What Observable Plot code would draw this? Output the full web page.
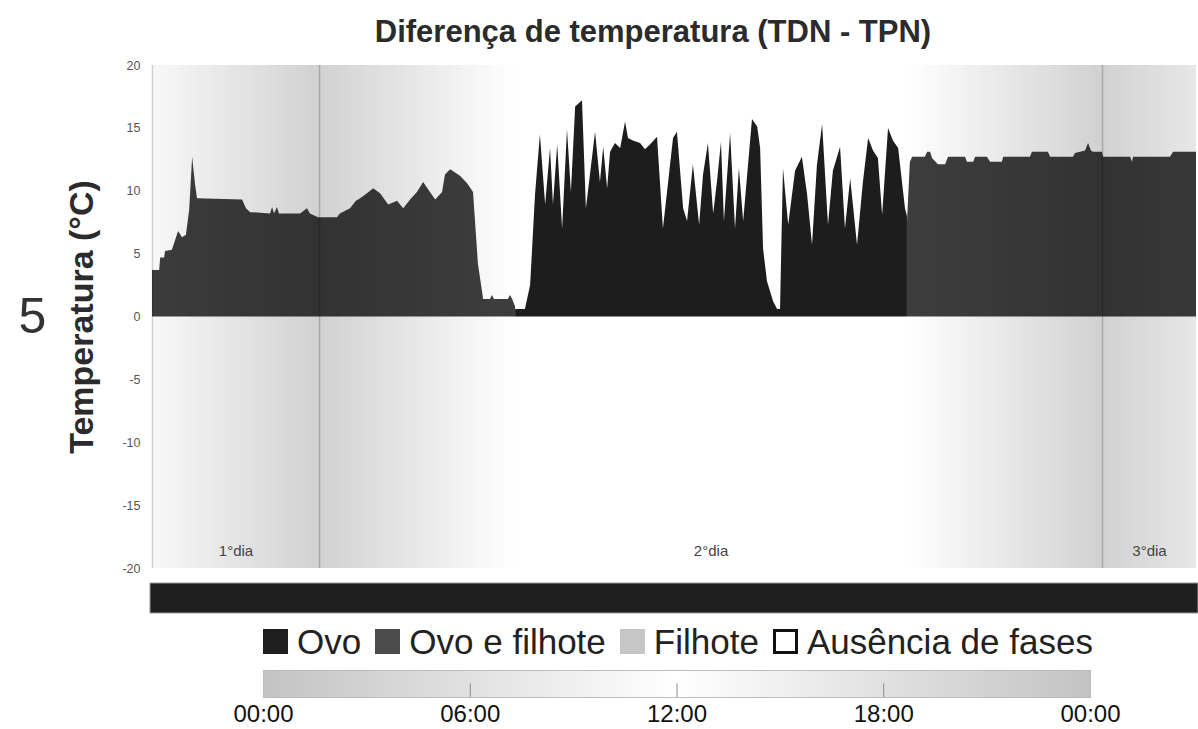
<!DOCTYPE html>
<html><head><meta charset="utf-8">
<script src="https://cdn.jsdelivr.net/npm/d3@7"></script>
<script src="https://cdn.jsdelivr.net/npm/@observablehq/plot@0.6"></script>
<style>
html,body{margin:0;padding:0;background:#fff;overflow:hidden;}
#wrap{position:relative;width:1198px;height:729px;overflow:hidden;font-family:"Liberation Sans",Arial,sans-serif;}
#title{position:absolute;left:0;top:16px;width:1306px;text-align:center;font-weight:bold;font-size:31px;line-height:31px;color:#2b2b2b;}
#main{position:absolute;left:0;top:55px;}
#phase{position:absolute;left:0;top:575px;}
#legend{position:absolute;left:0;top:624px;width:1356px;text-align:center;font-size:35px;line-height:35px;color:#222;white-space:nowrap;}
#legend .it{display:inline-block;margin:0 7px;}
#legend .sw{display:inline-block;width:25px;height:25px;margin-right:9px;box-sizing:border-box;vertical-align:baseline;}
#hours{position:absolute;left:0;top:662px;}
</style></head>
<body><div id="wrap">
<div id="title">Diferença de temperatura (TDN - TPN)</div>
<div id="main"></div>
<div id="phase"></div>
<div id="legend"></div>
<div id="hours"></div>
</div>
<script>
// ---- data (time in hours since 00:00 of day 1; value in °C) ----
const ovoFilhote1T = [18.88,19.10,19.13,19.25,19.28,19.49,19.68,19.80,19.92,20.02,20.11,20.20,20.26,21.64,21.76,21.89,22.50,22.56,22.62,22.71,22.77,23.42,23.63,23.72,23.97,24.55,24.64,24.95,25.13,25.26,25.47,25.66,25.87,26.12,26.39,26.58,26.79,27.00,27.19,27.40,27.56,27.77,27.86,28.02,28.32,28.54,28.72,28.87,29.03,29.24,29.30,29.36,29.79,29.85,29.92,30.01];
const ovoFilhote1V = [3.7,3.7,4.7,4.7,5.2,5.3,6.8,6.3,6.5,8.5,12.7,10.5,9.4,9.3,8.6,8.3,8.2,8.7,8.2,8.7,8.2,8.2,8.6,8.2,7.9,7.9,8.2,8.6,9.2,9.4,9.8,10.2,9.8,8.9,9.2,8.6,9.3,9.9,10.7,9.9,9.3,9.9,11.3,11.7,11.2,10.6,9.9,4.2,1.4,1.4,1.7,1.4,1.4,1.7,1.4,0.8];

const ovoT = [30.01,30.31,30.47,30.62,30.77,30.93,31.08,31.17,31.30,31.45,31.60,31.72,31.85,32.06,32.18,32.46,32.61,32.71,32.83,32.92,33.07,33.23,33.38,33.47,33.62,33.84,33.99,34.15,34.36,34.54,34.70,34.85,34.97,35.16,35.28,35.46,35.65,35.77,35.92,36.08,36.20,36.32,36.41,36.60,36.75,36.87,37.00,37.27,37.43,37.52,37.61,37.73,37.92,38.04,38.13,38.22,38.38,38.59,38.80,38.96,39.11,39.26,39.42,39.60,39.75,39.97,40.12,40.28,40.49,40.67,40.83,40.98,41.13,41.26,41.44,41.59,41.75,41.96,42.02];
const ovoV = [0.6,0.6,2.5,9.7,14.5,8.9,13.4,8.9,13.7,7.0,14.9,9.9,16.7,17.2,8.6,14.7,10.7,13.5,10.2,13.1,13.8,13.4,15.5,14.2,14.0,13.8,13.3,13.7,14.3,7.0,10.7,14.2,14.7,8.6,7.6,12.1,7.3,11.3,13.8,8.2,10.8,13.9,7.6,14.6,7.0,11.8,7.6,15.7,15.1,13.4,5.4,2.8,1.2,0.6,0.6,11.8,7.3,11.6,12.7,9.7,5.7,12.0,15.3,7.3,11.6,13.5,7.0,11.0,5.7,10.7,14.2,13.2,12.6,8.1,15.0,14.0,13.4,8.6,8.0];

const ovoFilhote2T = [42.02,42.11,42.18,42.57,42.64,42.73,42.79,42.97,43.19,43.28,43.80,43.86,44.05,44.11,44.47,44.57,44.93,44.97,45.79,45.85,46.34,46.41,47.11,47.17,47.48,47.57,47.66,47.72,48.00,48.03,48.86,48.92,48.95,50.08,50.18,50.88];
const ovoFilhote2V = [7.5,12.3,12.7,12.7,13.1,13.1,12.6,12.1,12.1,12.7,12.7,12.3,12.3,12.7,12.7,12.3,12.3,12.7,12.7,13.1,13.1,12.7,12.7,13.0,13.2,13.8,13.2,13.1,13.1,12.7,12.7,12.3,12.7,12.7,13.1,13.1];

const yTicks = [-20,-15,-10,-5,0,5,10,15,20];
const dayLabels = ["1°dia","2°dia","3°dia"];
const dayStarts = [0,24,48];
const midnights = [24,48];
const phaseNames = ["Ovo"];
const phaseStart = [18.88];
const phaseEnd = [50.88];
const legendNames = ["Ovo","Ovo e filhote","Filhote","Ausência de fases"];
const legendColors = ["#1e1e1e","#4b4b4b","#c6c6c6","#ffffff"];
const hourTicks = [0,6,12,18,24];
const hourLabels = ["00:00","06:00","12:00","18:00","00:00"];
const panelLabel = "5";

// ---- build tables ----
const zip = (T,V) => T.map((t,i) => ({t, v: V[i]}));
const seg1 = zip(ovoFilhote1T, ovoFilhote1V);
const seg2 = zip(ovoT, ovoV);
const seg3 = zip(ovoFilhote2T, ovoFilhote2V);
const xDomain = [ovoFilhote1T[0], ovoFilhote2T[ovoFilhote2T.length-1]];

function gray(v){ v = Math.round(v); return `rgb(${v},${v},${v})`; }
function nightShade(h){
  const d = h >= 18 ? (h-18)/6 : (h < 6 ? (6-h)/6 : 0);
  return gray(255 - 46*d);
}
const step = 0.1;
const bg = d3.range(xDomain[0], xDomain[1], step).map(t => ({t0: t, t1: Math.min(t + step + 0.02, xDomain[1]), fill: nightShade(((t + step/2) % 24))}));

const days = dayLabels.map((name,i) => {
  const a = Math.max(dayStarts[i], xDomain[0]), b = Math.min(dayStarts[i] + 24, xDomain[1]);
  return {name, t: (a + b) / 2};
});

const font = "'Liberation Sans', Arial, sans-serif";

const main = Plot.plot({
  width: 1198, height: 520,
  marginLeft: 152, marginRight: 2, marginTop: 10, marginBottom: 7,
  style: {fontFamily: font, background: "transparent"},
  x: {domain: xDomain, axis: null},
  y: {domain: [-20, 20], axis: null},
  color: {type: "identity"},
  marks: [
    Plot.rect(bg, {x1: "t0", x2: "t1", fill: "fill", inset: 0, shapeRendering: "crispEdges"}),
    Plot.ruleX(midnights, {stroke: "#a8a8a8", strokeWidth: 1.5}),
    Plot.ruleX([xDomain[0]], {stroke: "#cfcfcf", strokeWidth: 1.5}),
    Plot.areaY(seg1, {x: "t", y: "v", fill: "#000", fillOpacity: 0.76}),
    Plot.areaY(seg2, {x: "t", y: "v", fill: "#000", fillOpacity: 0.885}),
    Plot.areaY(seg3, {x: "t", y: "v", fill: "#000", fillOpacity: 0.76}),
    Plot.axisY(yTicks, {tickSize: 0, tickPadding: 12, fontSize: 12.5, fill: "#555", label: null, tickFormat: d => String(d)}),
    Plot.text(["Temperatura (°C)"], {frameAnchor: "left", textAnchor: "middle", dx: -70, rotate: -90, fontSize: 34, fontWeight: "bold", fill: "#2b2b2b"}),
    Plot.text([panelLabel], {frameAnchor: "left", textAnchor: "middle", dx: -120, dy: 0, fontSize: 50, fill: "#333"}),
    Plot.text(days, {x: "t", text: "name", frameAnchor: "bottom", dy: -13, fontSize: 15, fill: "#444"})
  ]
});
document.getElementById("main").appendChild(main);

const phaseData = phaseNames.map((p,i) => ({p, start: phaseStart[i], end: phaseEnd[i]}));
const phase = Plot.plot({
  width: 1198, height: 40,
  marginLeft: 150, marginRight: 0, marginTop: 8, marginBottom: 2,
  style: {background: "transparent"},
  x: {domain: xDomain, axis: null},
  marks: [
    Plot.rect(phaseData, {x1: "start", x2: "end", fill: "#1f1f1f", stroke: "#9a9a9a", strokeWidth: 1, inset: 0})
  ]
});
document.getElementById("phase").appendChild(phase);

// legend
const lg = document.getElementById("legend");
legendNames.forEach((n,i) => {
  const it = document.createElement("span"); it.className = "it";
  const sw = document.createElement("span"); sw.className = "sw";
  sw.style.background = legendColors[i];
  if (legendColors[i] === "#ffffff") sw.style.border = "3px solid #111";
  it.appendChild(sw);
  it.appendChild(document.createTextNode(n));
  lg.appendChild(it);
});

// hour bar
function dayShade(h){ return gray(255 - 60*Math.abs(h-12)/12); }
const hb = d3.range(0, 24, step).map(t => ({t0: t, t1: Math.min(t + step + 0.02, 24), fill: dayShade(t + step/2)}));
const hours = Plot.plot({
  width: 1198, height: 67,
  marginLeft: 263, marginRight: 108, marginTop: 8, marginBottom: 32,
  style: {fontFamily: font, background: "transparent", overflow: "visible"},
  x: {domain: [0, 24], axis: null},
  y: {domain: [0, 1], axis: null},
  color: {type: "identity"},
  marks: [
    Plot.rect(hb, {x1: "t0", x2: "t1", y1: 0, y2: 1, fill: "fill", inset: 0, shapeRendering: "crispEdges"}),
    Plot.ruleX(hourTicks.slice(1, -1), {y1: 0, y2: 0.5, stroke: "#8a8a8a"}),
    Plot.frame({stroke: "#bdbdbd"}),
    Plot.axisX(hourTicks, {tickSize: 0, tickPadding: 7, fontSize: 24, fill: "#111", label: null,
      tickFormat: d => hourLabels[hourTicks.indexOf(d)]})
  ]
});
document.getElementById("hours").appendChild(hours);
</script>
</body></html>
